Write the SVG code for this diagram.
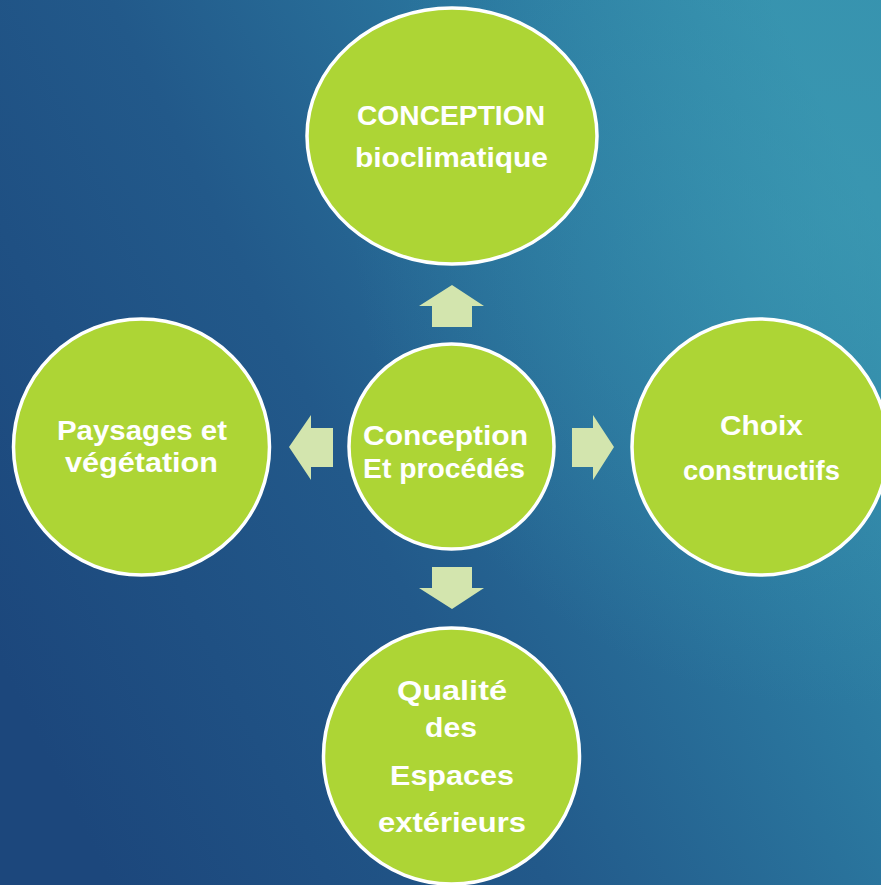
<svg xmlns="http://www.w3.org/2000/svg" width="881" height="885" viewBox="0 0 881 885">
<defs>
<linearGradient id="bg" x1="0" y1="0.75" x2="1" y2="0.25">
<stop offset="0" stop-color="#1c477c"/>
<stop offset="0.4" stop-color="#22598a"/>
<stop offset="0.75" stop-color="#2b79a0"/>
<stop offset="1" stop-color="#3590ad"/>
</linearGradient>
<radialGradient id="glow" cx="0.95" cy="0.25" r="0.55">
<stop offset="0" stop-color="#3d9cb4" stop-opacity="0.55"/>
<stop offset="1" stop-color="#3d9cb4" stop-opacity="0"/>
</radialGradient>
</defs>
<style>
.node{fill:#add535;stroke:#ffffff;stroke-width:3.5}
.arrow{fill:#d3e5ae}
.lbl{font-family:"Liberation Sans",Arial,sans-serif;font-weight:bold;font-size:27px;fill:#ffffff;text-anchor:middle}
</style>
<rect width="881" height="885" fill="url(#bg)"/>
<rect width="881" height="885" fill="url(#glow)"/>
<g id="connectors">
<polygon class="arrow" points="452,285 484,306 472,306 472,327 432,327 432,306 419,306"/>
<polygon class="arrow" points="614,447 593,480 593,467 572,467 572,428 593,428 593,415"/>
<polygon class="arrow" points="452,609 484,588 472,588 472,567 432,567 432,588 419,588"/>
<polygon class="arrow" points="289,447 311,415 311,428 333,428 333,467 311,467 311,480"/>
</g>
<g id="node-top">
<ellipse class="node" cx="452" cy="136" rx="145" ry="128"/>
<text class="lbl" x="451" y="125" textLength="188" lengthAdjust="spacingAndGlyphs">CONCEPTION</text>
<text class="lbl" x="451.5" y="167" textLength="193" lengthAdjust="spacingAndGlyphs">bioclimatique</text>
</g>
<g id="node-center">
<circle class="node" cx="451.5" cy="446.5" r="102.5"/>
<text class="lbl" x="445.5" y="445" textLength="165" lengthAdjust="spacingAndGlyphs">Conception</text>
<text class="lbl" x="444" y="478" textLength="162" lengthAdjust="spacingAndGlyphs">Et procédés</text>
</g>
<g id="node-left">
<circle class="node" cx="141.5" cy="447" r="128"/>
<text class="lbl" x="142" y="440" textLength="170" lengthAdjust="spacingAndGlyphs">Paysages et</text>
<text class="lbl" x="141.5" y="472" textLength="153" lengthAdjust="spacingAndGlyphs">végétation</text>
</g>
<g id="node-right">
<circle class="node" cx="760" cy="447" r="128"/>
<text class="lbl" x="761.5" y="435" textLength="83" lengthAdjust="spacingAndGlyphs">Choix</text>
<text class="lbl" x="761.5" y="480" textLength="157" lengthAdjust="spacingAndGlyphs">constructifs</text>
</g>
<g id="node-bottom">
<circle class="node" cx="451.5" cy="756" r="128"/>
<text class="lbl" x="452" y="700" textLength="110" lengthAdjust="spacingAndGlyphs">Qualité</text>
<text class="lbl" x="451" y="737" textLength="52" lengthAdjust="spacingAndGlyphs">des</text>
<text class="lbl" x="452" y="785" textLength="124" lengthAdjust="spacingAndGlyphs">Espaces</text>
<text class="lbl" x="452" y="832" textLength="148" lengthAdjust="spacingAndGlyphs">extérieurs</text>
</g>
</svg>
